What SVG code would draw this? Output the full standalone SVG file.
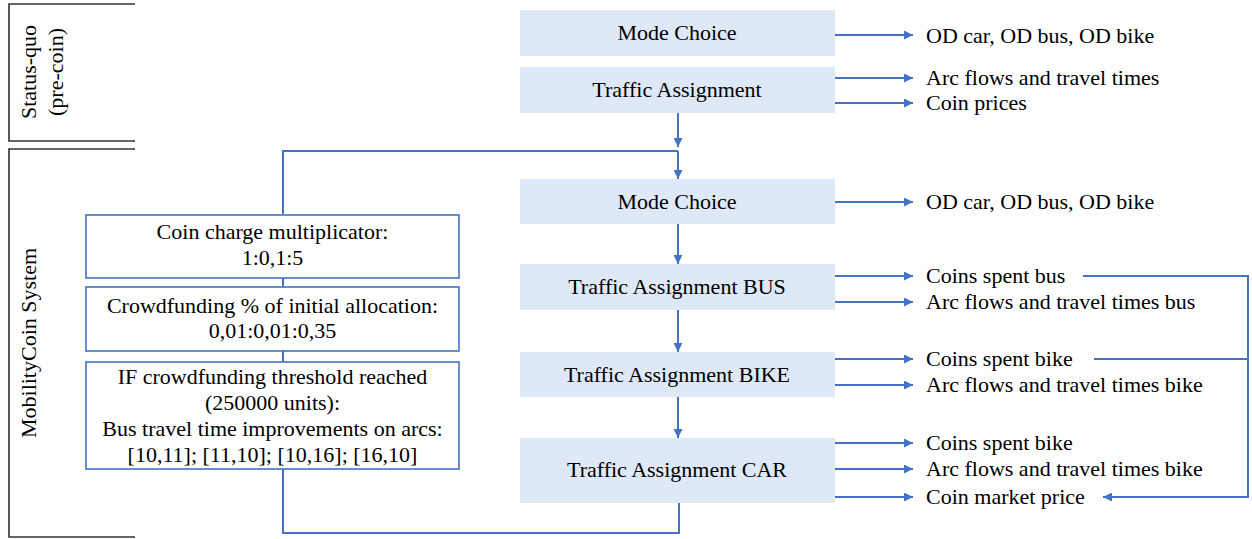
<svg xmlns="http://www.w3.org/2000/svg" width="1252" height="539" viewBox="0 0 1252 539">
  <style>
    text { font-family: "Liberation Serif", "Times New Roman", serif; font-size: 22px; fill: #000; }
    .mid { text-anchor: middle; }
    .step { fill: #DEE8F6; stroke: none; }
    .param { fill: #fff; stroke: #4472C4; stroke-width: 1.6; }
    .bracket { fill: none; stroke: #333; stroke-width: 1.6; }
    .conn { fill: none; stroke: #4472C4; stroke-width: 2; }
    .arr { marker-end: url(#head); }
  </style>
  <defs>
    <marker id="head" viewBox="0 0 10 10" refX="10" refY="5" markerUnits="userSpaceOnUse" markerWidth="10" markerHeight="9" orient="auto">
      <path d="M0,0 L10,5 L0,10 Z" fill="#4472C4"/>
    </marker>
  </defs>
  <rect width="1252" height="539" fill="#fff"/>

  <!-- phase brackets -->
  <g id="phase-status-quo">
    <path class="bracket" d="M135,4 H9 V141 H135"/>
    <text class="mid" transform="translate(35.5,72) rotate(-90)">Status-quo</text>
    <text class="mid" transform="translate(62.5,72) rotate(-90)">(pre-coin)</text>
  </g>
  <g id="phase-mobilitycoin">
    <path class="bracket" d="M135,149 H9 V537 H135"/>
    <text class="mid" transform="translate(35.5,343) rotate(-90)">MobilityCoin System</text>
  </g>

  <!-- connectors -->
  <g id="connectors">
    <!-- status-quo chain -->
    <line class="conn arr" x1="678" y1="113" x2="678" y2="147"/>
    <path class="conn" d="M283,214 V151 H678"/>
    <line class="conn arr" x1="678" y1="151" x2="678" y2="179"/>
    <line class="conn arr" x1="678" y1="224" x2="678" y2="264"/>
    <line class="conn arr" x1="678" y1="310" x2="678" y2="352"/>
    <line class="conn arr" x1="678" y1="397" x2="678" y2="438"/>
    <!-- parameter stack and loop back -->
    <line class="conn" x1="283" y1="278" x2="283" y2="287"/>
    <line class="conn" x1="283" y1="351" x2="283" y2="362"/>
    <path class="conn" d="M283,469 V533 H679 V503"/>
    <!-- outputs -->
    <line class="conn arr" x1="835" y1="35" x2="913" y2="35"/>
    <line class="conn arr" x1="835" y1="78" x2="913" y2="78"/>
    <line class="conn arr" x1="835" y1="103" x2="913" y2="103"/>
    <line class="conn arr" x1="835" y1="202" x2="913" y2="202"/>
    <line class="conn arr" x1="835" y1="276" x2="913" y2="276"/>
    <line class="conn arr" x1="835" y1="302" x2="913" y2="302"/>
    <line class="conn arr" x1="835" y1="359" x2="913" y2="359"/>
    <line class="conn arr" x1="835" y1="385" x2="913" y2="385"/>
    <line class="conn arr" x1="835" y1="443" x2="913" y2="443"/>
    <line class="conn arr" x1="835" y1="469" x2="913" y2="469"/>
    <line class="conn arr" x1="835" y1="497" x2="913" y2="497"/>
    <!-- coins spent feed the market price -->
    <path class="conn arr" d="M1083,276 H1248 V497 H1103"/>
    <line class="conn" x1="1094" y1="359" x2="1248" y2="359"/>
  </g>

  <!-- status-quo steps -->
  <g id="mode-choice-0">
    <rect class="step" x="520" y="10" width="315" height="46"/>
    <text class="mid" x="677" y="40">Mode Choice</text>
  </g>
  <g id="traffic-assignment-0">
    <rect class="step" x="520" y="67" width="315" height="46"/>
    <text class="mid" x="677" y="97">Traffic Assignment</text>
  </g>

  <!-- MobilityCoin steps -->
  <g id="mode-choice-1">
    <rect class="step" x="520" y="179" width="315" height="45"/>
    <text class="mid" x="677" y="209">Mode Choice</text>
  </g>
  <g id="traffic-assignment-bus">
    <rect class="step" x="520" y="264" width="315" height="46"/>
    <text class="mid" x="677" y="294">Traffic Assignment BUS</text>
  </g>
  <g id="traffic-assignment-bike">
    <rect class="step" x="520" y="352" width="315" height="45"/>
    <text class="mid" x="677" y="382">Traffic Assignment BIKE</text>
  </g>
  <g id="traffic-assignment-car">
    <rect class="step" x="520" y="438" width="315" height="65"/>
    <text class="mid" x="677" y="477">Traffic Assignment CAR</text>
  </g>

  <!-- parameters -->
  <g id="param-charge">
    <rect class="param" x="86" y="215" width="373" height="63"/>
    <text class="mid" x="272.5" y="239">Coin charge multiplicator:</text>
    <text class="mid" x="272.5" y="265">1:0,1:5</text>
  </g>
  <g id="param-crowdfunding">
    <rect class="param" x="86" y="287" width="373" height="64"/>
    <text class="mid" x="272.5" y="313">Crowdfunding % of initial allocation:</text>
    <text class="mid" x="272.5" y="338">0,01:0,01:0,35</text>
  </g>
  <g id="param-threshold">
    <rect class="param" x="86" y="362" width="373" height="107"/>
    <text class="mid" x="272.5" y="384">IF crowdfunding threshold reached</text>
    <text class="mid" x="272.5" y="410">(250000 units):</text>
    <text class="mid" x="272.5" y="436">Bus travel time improvements on arcs:</text>
    <text class="mid" x="272.5" y="462">[10,11]; [11,10]; [10,16]; [16,10]</text>
  </g>

  <!-- outputs -->
  <g id="outputs">
    <text x="926" y="43">OD car, OD bus, OD bike</text>
    <text x="926" y="85">Arc flows and travel times</text>
    <text x="926" y="110">Coin prices</text>
    <text x="926" y="209">OD car, OD bus, OD bike</text>
    <text x="926" y="283">Coins spent bus</text>
    <text x="926" y="309">Arc flows and travel times bus</text>
    <text x="926" y="366">Coins spent bike</text>
    <text x="926" y="392">Arc flows and travel times bike</text>
    <text x="926" y="450">Coins spent bike</text>
    <text x="926" y="476">Arc flows and travel times bike</text>
    <text x="926" y="504">Coin market price</text>
  </g>
</svg>
